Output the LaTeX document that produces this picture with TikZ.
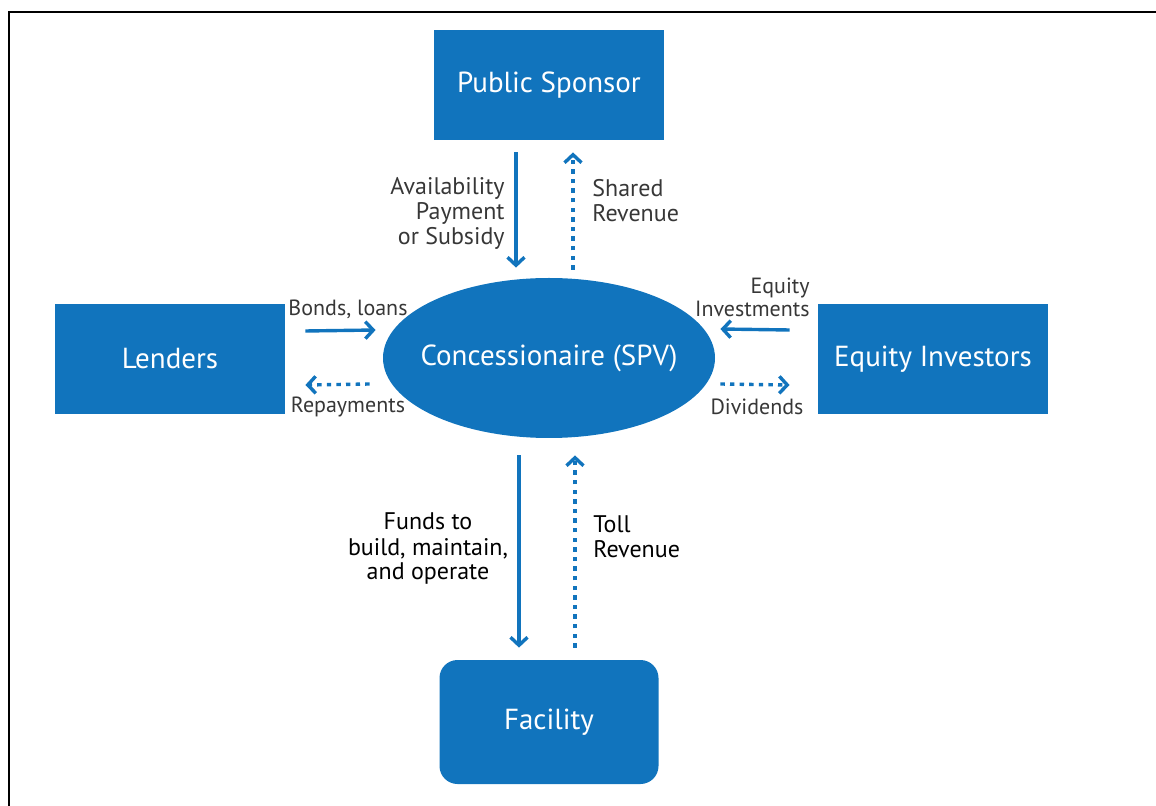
\documentclass[tikz,border=0pt]{standalone}
\usepackage{fontspec}
\setmainfont{PT Sans}
\usetikzlibrary{shapes.geometric,arrows.meta}
\definecolor{pppblue}{RGB}{17,116,189}
\definecolor{lblgray}{RGB}{55,55,55}
\begin{document}
\begin{tikzpicture}[x=0.5pt,y=-0.5pt,
		box/.style={fill=pppblue, text=white, minimum width=115pt, minimum height=55pt, inner sep=0pt, font=\fontsize{14.5}{17}\selectfont},
		lbl/.style={text=lblgray, inner sep=0pt, font=\fontsize{12}{12.5}\selectfont},
		smalllbl/.style={text=lblgray, inner sep=0pt, font=\fontsize{11}{11.5}\selectfont},
		flow/.style={pppblue, line width=1.7pt, -{Straight Barb[length=4pt,width=8.5pt]}},
		backflow/.style={flow, dash pattern=on 2.2pt off 2.6pt}]
		\useasboundingbox (0,0) rectangle (1156,806);
		\draw[line width=1pt] (9,806) -- (9,12) -- (1156,12);

		\node[box] (sponsor) at (549,85) {Public Sponsor};
		\node[box] (lenders) at (170,359) {Lenders};
		\node[box] (investors) at (933,359) {Equity Investors};
		\node[box, ellipse, minimum width=166pt, minimum height=80pt] (spv) at (549,358) {\makebox[0pt][c]{Concessionaire (SPV)}};
		\node[box, rounded corners=9pt, minimum width=109.5pt, minimum height=62pt] (facility) at (549,722) {Facility};

		\draw[flow] ([xshift=-16.5pt,yshift=-6pt]sponsor.south) -- ([xshift=-16.5pt,yshift=5pt]spv.north);
		\draw[backflow] ([xshift=12pt,yshift=4pt]spv.north) -- ([xshift=12pt,yshift=-6pt]sponsor.south);
		\draw[flow] ([xshift=-15pt,yshift=-8.5pt]spv.south) -- ([xshift=-15pt,yshift=6pt]facility.north);
		\draw[backflow] ([xshift=13pt,yshift=6pt]facility.north) -- ([xshift=13pt,yshift=-8.5pt]spv.south);
		\draw[flow] ([xshift=10pt,yshift=14pt]lenders.east) -- ([xshift=-3.5pt,yshift=14pt]spv.west);
		\draw[backflow] ([xshift=-6.5pt,yshift=-13pt]spv.west) -- ([xshift=10pt,yshift=-13pt]lenders.east);
		\draw[flow] ([xshift=-14pt,yshift=14.5pt]investors.west) -- ([xshift=2.5pt,yshift=14.5pt]spv.east);
		\draw[backflow] ([xshift=2.5pt,yshift=-13pt]spv.east) -- ([xshift=-14pt,yshift=-13pt]investors.west);

		\node[lbl, align=right, anchor=east] (avail) at (505,213) {Availability\\Payment\\or Subsidy};
		\node[lbl, align=left, anchor=west] (shared) at (592,201) {Shared\\Revenue};
		\node[smalllbl] (bonds) at (348,309) {Bonds, loans};
		\node[smalllbl] (repay) at (348,407) {Repayments};
		\node[smalllbl, align=right, anchor=east] (equity) at (810,297) {Equity\\Investments};
		\node[smalllbl] (divid) at (757,407) {Dividends};
		\node[lbl, text=black, align=center] (funds) at (428,549) {Funds to\\build, maintain,\\and operate};
		\node[lbl, text=black, align=left, anchor=west] (toll) at (593,537) {Toll\\Revenue};
	\end{tikzpicture}
\end{document}
